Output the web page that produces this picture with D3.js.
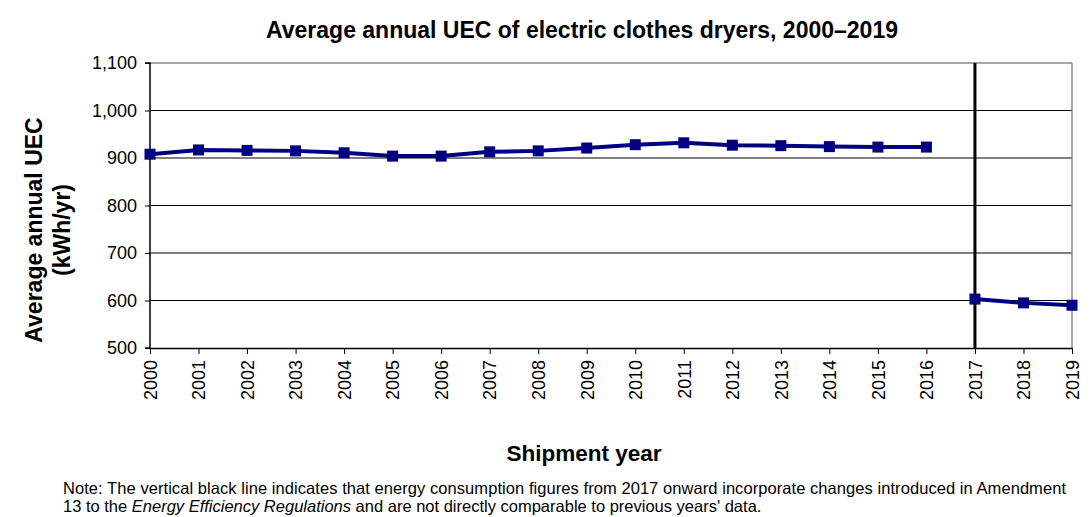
<!DOCTYPE html>
<html>
<head>
<meta charset="utf-8">
<title>UEC of electric clothes dryers</title>
<script src="https://d3js.org/d3.v7.min.js"></script>
<style>
  body { margin: 0; background: #fff; }
  text { font-family: "Liberation Sans", Arial, sans-serif; }
</style>
</head>
<body>
<script>
const years = [2000, 2001, 2002, 2003, 2004, 2005, 2006, 2007, 2008, 2009,
               2010, 2011, 2012, 2013, 2014, 2015, 2016, 2017, 2018, 2019];
const uecBefore = [908, 917, 916, 915, 911, 904, 904, 913, 915, 921,
                   928, 932, 927, 926, 924, 923, 923];
const uecAfter = [603, 595, 590];
const yTicks = [500, 600, 700, 800, 900, 1000, 1100];

const width = 1090, height = 517;
const plotLeft = 150, plotRight = 1072, plotTop = 63, plotBottom = 348;

const svg = d3.select('body').append('svg')
  .attr('width', width).attr('height', height);

const x = d3.scalePoint().domain(years).range([plotLeft, plotRight]);
const y = d3.scaleLinear().domain([500, 1100]).range([plotBottom, plotTop]);

// gridlines
svg.append('g').selectAll('line').data(yTicks.slice(1, -1)).join('line')
  .attr('x1', plotLeft).attr('x2', plotRight)
  .attr('y1', d => y(d)).attr('y2', d => y(d))
  .attr('stroke', '#000').attr('stroke-width', 1);

// frame top/right
svg.append('line').attr('x1', plotLeft).attr('x2', plotRight).attr('y1', plotTop).attr('y2', plotTop)
  .attr('stroke', '#888').attr('stroke-width', 1.5);
svg.append('line').attr('x1', plotRight).attr('x2', plotRight).attr('y1', plotTop).attr('y2', plotBottom)
  .attr('stroke', '#888').attr('stroke-width', 1.5);

// y axis
const yAxis = d3.axisLeft(y).tickValues(yTicks).tickSize(5).tickPadding(8)
  .tickFormat(d3.format(','));
const yg = svg.append('g').attr('transform', `translate(${plotLeft},0)`).call(yAxis);
yg.select('.domain').attr('stroke', '#000').attr('stroke-width', 1.5).attr('d', `M-5,${plotTop}H0V${plotBottom}H-5`);
yg.selectAll('text').style('font-size', '18px').attr('fill', '#000');

// x axis
const xAxis = d3.axisBottom(x).tickSize(6).tickSizeOuter(0);
const xg = svg.append('g').attr('transform', `translate(0,${plotBottom})`).call(xAxis);
xg.select('.domain').attr('stroke', '#000').attr('stroke-width', 1.5);
xg.selectAll('text')
  .style('font-size', '18px').attr('fill', '#000')
  .attr('transform', 'rotate(-90)')
  .attr('text-anchor', 'end').attr('dy', '0.35em').attr('x', -12).attr('y', 0);

// break line at 2017
svg.append('line')
  .attr('x1', x(2017)).attr('x2', x(2017)).attr('y1', plotTop).attr('y2', plotBottom)
  .attr('stroke', '#000').attr('stroke-width', 3);

// series
const before = years.slice(0, uecBefore.length).map((yr, i) => [yr, uecBefore[i]]);
const after = years.slice(uecBefore.length).map((yr, i) => [yr, uecAfter[i]]);
const line = d3.line().x(d => x(d[0])).y(d => y(d[1]));

[before, after].forEach(seg => {
  svg.append('path').datum(seg)
    .attr('fill', 'none').attr('stroke', '#000080').attr('stroke-width', 4)
    .attr('d', line);
  svg.append('g').selectAll('rect').data(seg).join('rect')
    .attr('x', d => x(d[0]) - 5.5).attr('y', d => y(d[1]) - 5.5)
    .attr('width', 11).attr('height', 11)
    .attr('fill', '#000080');
});

// title
svg.append('text')
  .attr('x', 582).attr('y', 38).attr('text-anchor', 'middle')
  .style('font-size', '23px').style('font-weight', 'bold')
  .text('Average annual UEC of electric clothes dryers, 2000\u20132019');

// y axis title
const yt = svg.append('text')
  .attr('transform', `translate(42,230) rotate(-90)`)
  .attr('text-anchor', 'middle')
  .style('font-size', '23px').style('font-weight', 'bold');
yt.append('tspan').attr('x', 0).attr('dy', 0).text('Average annual UEC');
yt.append('tspan').attr('x', 0).attr('dy', '1.2em').text('(kWh/yr)');

// x axis title
svg.append('text')
  .attr('x', 584).attr('y', 461).attr('text-anchor', 'middle')
  .style('font-size', '22.5px').style('font-weight', 'bold')
  .text('Shipment year');

// note
svg.append('text').attr('x', 63).attr('y', 494)
  .style('font-size', '16.5px').attr('fill', '#000')
  .attr('textLength', 1003).attr('lengthAdjust', 'spacing')
  .text('Note: The vertical black line indicates that energy consumption figures from 2017 onward incorporate changes introduced in Amendment');
const n2 = svg.append('text').attr('x', 63).attr('y', 512)
  .style('font-size', '16.5px').attr('fill', '#000');
n2.append('tspan').text('13 to the ');
n2.append('tspan').style('font-style', 'italic').text('Energy Efficiency Regulations');
n2.append('tspan').text(" and are not directly comparable to previous years' data.");
</script>
</body>
</html>
